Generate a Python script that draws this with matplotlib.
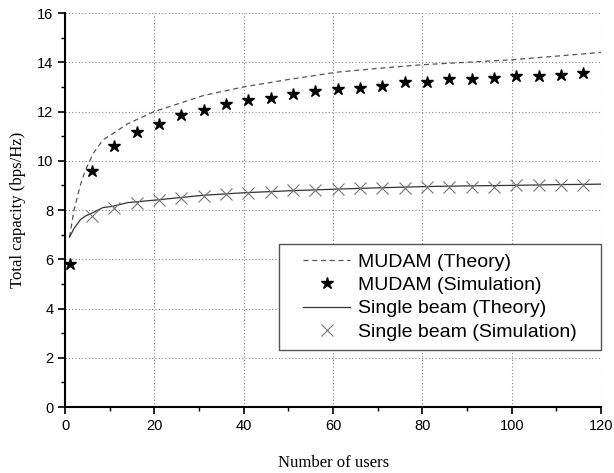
import matplotlib.pyplot as plt
from matplotlib.patches import Rectangle
import numpy as np

# theory curves
x_th = [1, 2, 3.4, 4.5, 6.3, 8.5, 10.7, 14, 20, 31, 40, 50, 61, 70, 80, 90, 100, 110, 120]
mudam_th = [6.9, 8.0, 9.0, 9.6, 10.3, 10.85, 11.1, 11.5, 12.0, 12.65, 13.0, 13.3, 13.6, 13.75, 13.9, 14.0, 14.1, 14.25, 14.4]
single_th = [6.9, 7.25, 7.6, 7.75, 7.9, 8.1, 8.15, 8.3, 8.4, 8.6, 8.7, 8.78, 8.85, 8.9, 8.95, 8.98, 9.0, 9.03, 9.05]

# simulation points
x_sim = list(range(1, 117, 5))
mudam_sim = [5.8, 9.6, 10.6, 11.15, 11.5, 11.85, 12.05, 12.3, 12.45, 12.55, 12.7, 12.85,
             12.9, 12.95, 13.05, 13.2, 13.2, 13.3, 13.3, 13.35, 13.45, 13.45, 13.5, 13.55]
single_sim = [None, 7.75, 8.1, 8.3, 8.4, 8.5, 8.55, 8.65, 8.7, 8.75, 8.8, 8.8,
              8.85, 8.9, 8.9, 8.9, 8.95, 8.95, 8.95, 8.95, 9.0, 9.0, 9.0, 9.0]

xs = [x for x, v in zip(x_sim, single_sim) if v is not None]
ys = [v for v in single_sim if v is not None]

fig = plt.figure(figsize=(6.14, 4.73), dpi=100)
ax = fig.add_axes([0.106, 0.1395, 0.873, 0.833])

ax.plot(x_th, mudam_th, ls=(0, (4, 3)), color='#555555', lw=0.9, label='MUDAM (Theory)')
ax.plot(x_sim, mudam_sim, ls='none', marker='*', ms=9, color='black', label='MUDAM (Simulation)')
ax.plot(x_th, single_th, ls='-', color='#333333', lw=0.9, label='Single beam (Theory)')
ax.plot(xs, ys, ls='none', marker='x', ms=8, mew=0.8, color='#777777', label='Single beam (Simulation)')

ax.set_xlim(0, 120)
ax.set_ylim(0, 16)
ax.set_xticks(np.arange(0, 121, 20))
ax.set_xticks(np.arange(0, 121, 10), minor=True)
ax.set_yticks(np.arange(0, 17, 2))
ax.set_yticks(np.arange(0, 17, 1), minor=True)
ax.grid(True, which='major', ls=(0, (1, 2)), color='#888888', lw=0.8)

for s in ['top', 'right']:
    ax.spines[s].set_visible(False)
for s in ['left', 'bottom']:
    ax.spines[s].set_linewidth(1.5)
ax.tick_params(which='major', direction='out', length=5, width=1.2, labelsize=10.5)
ax.tick_params(which='minor', direction='out', length=3, width=1.0)
for lab in ax.get_xticklabels() + ax.get_yticklabels():
    lab.set_fontfamily('Liberation Sans')

ax.set_xlabel('Number of users', family='Liberation Serif', fontsize=12, labelpad=16)
ax.set_ylabel('Total capacity (bps/Hz)', family='Liberation Serif', fontsize=12, labelpad=8)

# legend box drawn separately so the entries can sit centred in it
box = Rectangle((0.399, 0.145), 0.601, 0.269, transform=ax.transAxes, facecolor='white',
                edgecolor='#555555', lw=1.0, zorder=4, clip_on=False)
ax.add_patch(box)
leg = ax.legend(loc='center', bbox_to_anchor=(0.6995, 0.2795), frameon=False,
                prop={'family': 'Liberation Sans', 'size': 14}, handlelength=2.4,
                borderpad=0.0, labelspacing=0.3, handletextpad=0.4)
leg.set_zorder(5)

fig.savefig('out.png', dpi=100)
